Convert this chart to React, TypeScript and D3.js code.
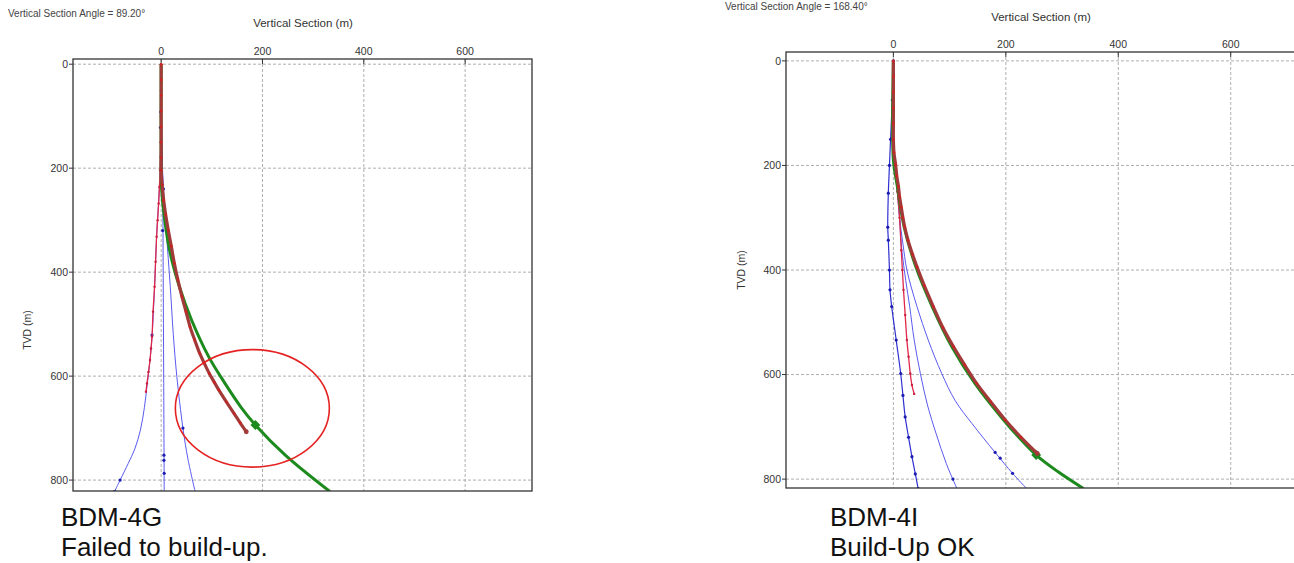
import React from 'react';
import * as d3 from 'd3';

type Pt = [number, number]; // [tvd, vertical section]

const xTicks = [0, 200, 400, 600];
const yTicks = [0, 200, 400, 600, 800];

// ---- BDM-4G (left) ----
const g4Actual: Pt[] = [
  [0, 0], [30, 0], [60, 0], [90, 0], [120, 0], [150, 0], [180, 0], [204, 0], [232, 2], [262, 5],
  [290, 9], [319, 14], [350, 20], [383, 26], [415, 33], [447, 41], [476, 49], [505, 57], [530, 66],
  [556, 76], [575, 85], [595, 95], [612, 105], [627, 114], [650, 129], [672, 144], [690, 156], [707, 168],
];
const g4Plan: Pt[] = [
  [0, 0], [200, 0], [242, 1], [300, 7], [364, 18], [428, 36], [492, 60], [563, 94], [614, 126],
  [659, 157], [694, 186], [752, 245], [822, 333],
];
const g4Offset: Pt[] = [
  [0, 0], [50, 0], [100, -0.5], [150, -1], [204, -2], [236, -3.5], [268, -5], [300, -7], [332, -9],
  [380, -11], [428, -13], [476, -16], [524, -18], [547, -20], [569, -22], [592, -25], [614, -28], [630, -30],
];
const g4BlueLeft: Pt[] = [
  [0, 0], [204, -2], [332, -9], [428, -13], [524, -18], [569, -22], [620, -28], [660, -33], [704, -41],
  [740, -52], [768, -65], [800, -81], [822, -92],
];
const g4BlueMid: Pt[] = [[0, 0], [100, 0.5], [230, 3], [400, 4], [600, 5], [822, 6]];
const g4BlueRight: Pt[] = [
  [0, 0], [150, 1], [229, 4], [319, 10], [428, 18], [520, 24], [601, 31], [700, 43], [760, 53], [822, 67],
];
const g4BlueDots: Pt[] = [
  [92, -1], [122, -1.5], [178, 0], [229, -1], [240, 4.5], [320, 3], [521, -18], [800, -81], [822, -92],
  [752, 5.5], [762, 5.5], [787, 6], [700, 43],
];
const g4PlanMark: Pt = [694, 186];
const g4Circle = { tvd: 662, vs: 180, rVs: 152, rTvd: 113 };

// ---- BDM-4I (right) ----
const i4Actual: Pt[] = [
  [0, 0], [30, 0], [60, 0], [90, 0], [120, 0], [150, 0], [175, 1], [199, 4], [220, 6], [240, 9], [260, 11],
  [280, 14], [300, 17], [317, 20], [343, 26], [370, 34], [394, 42], [430, 55], [470, 71], [510, 88],
  [547, 107], [582, 127], [617, 148], [652, 173], [687, 199], [720, 227], [751, 256],
];
const i4Plan: Pt[] = [
  [0, 0], [190, 0], [240, 7], [317, 19], [394, 40], [470, 69], [547, 104], [617, 145], [687, 196],
  [720, 223], [754, 254], [786, 293], [818, 338],
];
const i4Offset: Pt[] = [
  [0, 0], [150, 0], [200, 3], [250, 7], [300, 11], [362, 14], [400, 16], [438, 18], [486, 21], [534, 24],
  [566, 27], [598, 30], [620, 33], [637, 37],
];
const i4BlueA: Pt[] = [
  [0, 0], [75, -2], [150, -5], [200, -7], [253, -9], [318, -10], [343, -9], [400, -7], [438, -6],
  [470, -3], [534, 5], [598, 13], [640, 17], [681, 21], [720, 27], [757, 33], [790, 39], [818, 44],
];
const i4BlueB: Pt[] = [
  [0, 0], [150, 0], [200, 3], [250, 8], [300, 11], [362, 15], [420, 22], [470, 29], [534, 37],
  [598, 48], [660, 61], [713, 76], [770, 94], [818, 113],
];
const i4BlueC: Pt[] = [
  [0, 0], [150, 0], [200, 3], [250, 7], [300, 11], [350, 17], [400, 24], [470, 42], [534, 62],
  [598, 86], [650, 110], [694, 140], [749, 181], [789, 212], [818, 237],
];
const i4BlueDots: Pt[] = [[749, 181], [760, 190], [789, 212], [800, 106]];
const i4PlanMark: Pt = [754, 254];

const FONT = 'Liberation Sans, Arial, sans-serif';

const C = {
  grid: '#9a9a9a',
  frame: '#333',
  blue: '#5a5af0',
  blueDot: '#1c1cb4',
  red: '#e0284a',
  brown: '#a33a3a',
  brownDot: '#d02020',
  green: '#1d8a1d',
  circle: '#e52222',
};

interface ChartCfg {
  id: string;
  left: number; right: number; top: number; bottom: number;
  xDomain: [number, number]; yDomain: [number, number];
  angle: string; angleX: number; angleY: number;
  titleX: number; titleY: number;
  tvdX: number; tvdY: number;
  actual: Pt[]; plan: Pt[]; offset: Pt[];
  blues: Pt[][]; blueDots: Pt[]; darkBlue?: Pt[];
  planMark: Pt;
  circle?: { tvd: number; vs: number; rVs: number; rTvd: number };
}

const Chart = ({ cfg }: { cfg: ChartCfg }) => {
  const x = d3.scaleLinear().domain(cfg.xDomain).range([cfg.left, cfg.right]);
  const y = d3.scaleLinear().domain(cfg.yDomain).range([cfg.top, cfg.bottom]);
  const line = d3.line<Pt>().x(d => x(d[1])).y(d => y(d[0])).curve(d3.curveCatmullRom.alpha(0.5));
  const W = cfg.right - cfg.left;
  const H = cfg.bottom - cfg.top;
  const last = cfg.actual[cfg.actual.length - 1];

  return (
    <g fontFamily={FONT}>
      <defs>
        <clipPath id={cfg.id}>
          <rect x={cfg.left} y={cfg.top} width={W} height={H} />
        </clipPath>
      </defs>
      <text x={cfg.angleX} y={cfg.angleY} fontSize={10} fill="#444">{cfg.angle}</text>
      <text x={cfg.titleX} y={cfg.titleY} fontSize={11.5} fill="#333" textAnchor="middle">Vertical Section (m)</text>
      <text transform={`translate(${cfg.tvdX},${cfg.tvdY}) rotate(-90)`} fontSize={10.5} fill="#333" textAnchor="middle">TVD (m)</text>

      {/* grid */}
      {xTicks.map(t => (
        <line key={'gx' + t} x1={x(t)} x2={x(t)} y1={cfg.top} y2={cfg.bottom} stroke={C.grid} strokeWidth={0.8} strokeDasharray="3,2" />
      ))}
      {yTicks.map(t => (
        <line key={'gy' + t} x1={cfg.left} x2={cfg.right} y1={y(t)} y2={y(t)} stroke={C.grid} strokeWidth={0.8} strokeDasharray="3,2" />
      ))}

      {/* ticks + labels */}
      {xTicks.map(t => (
        <g key={'tx' + t}>
          <line x1={x(t)} x2={x(t)} y1={cfg.top} y2={cfg.top + 5} stroke={C.frame} strokeWidth={1} />
          <text x={x(t)} y={cfg.top - 4} fontSize={10.5} fill="#333" textAnchor="middle">{t}</text>
        </g>
      ))}
      {yTicks.map(t => (
        <g key={'ty' + t}>
          <line x1={cfg.left - 4} x2={cfg.left} y1={y(t)} y2={y(t)} stroke={C.frame} strokeWidth={1} />
          <text x={cfg.left - 5} y={y(t)} dy="0.35em" fontSize={10.5} fill="#333" textAnchor="end">{t}</text>
        </g>
      ))}

      <g clipPath={`url(#${cfg.id})`}>
        {cfg.blues.map((b, i) => (
          <path key={'b' + i} d={line(b) || ''} fill="none" stroke={C.blue} strokeWidth={1} />
        ))}
        {cfg.darkBlue && (
          <g>
            <path d={line(cfg.darkBlue) || ''} fill="none" stroke="#3030d0" strokeWidth={1.2} />
            {cfg.darkBlue.map((d, i) => (
              <circle key={'db' + i} cx={x(d[1])} cy={y(d[0])} r={1.6} fill={C.blueDot} />
            ))}
          </g>
        )}
        {cfg.blueDots.map((d, i) => (
          <circle key={'bd' + i} cx={x(d[1])} cy={y(d[0])} r={1.6} fill={C.blueDot} />
        ))}
        <path d={line(cfg.offset) || ''} fill="none" stroke={C.red} strokeWidth={1.3} />
        {cfg.offset.map((d, i) => (
          <circle key={'o' + i} cx={x(d[1])} cy={y(d[0])} r={1.2} fill="#c81e3c" />
        ))}
        <path d={line(cfg.plan) || ''} fill="none" stroke={C.green} strokeWidth={3} />
        <rect
          x={x(cfg.planMark[1]) - 3.5} y={y(cfg.planMark[0]) - 3.5} width={7} height={7}
          fill={C.green}
          transform={`rotate(45 ${x(cfg.planMark[1])} ${y(cfg.planMark[0])})`}
        />
        <path d={line(cfg.actual) || ''} fill="none" stroke={C.brown} strokeWidth={3.2} />
        {cfg.actual.map((d, i) => (
          <circle key={'a' + i} cx={x(d[1])} cy={y(d[0])} r={1.3} fill={C.brownDot} />
        ))}
        <circle cx={x(last[1])} cy={y(last[0])} r={2.4} fill={C.brown} />
        {cfg.circle && (
          <ellipse
            cx={x(cfg.circle.vs)} cy={y(cfg.circle.tvd)}
            rx={x(cfg.circle.vs + cfg.circle.rVs) - x(cfg.circle.vs)}
            ry={y(cfg.circle.tvd + cfg.circle.rTvd) - y(cfg.circle.tvd)}
            fill="none" stroke={C.circle} strokeWidth={1.6}
          />
        )}
      </g>

      {/* frame */}
      <rect x={cfg.left} y={cfg.top} width={W} height={H} fill="none" stroke={C.frame} strokeWidth={1.3} />
    </g>
  );
};

const leftCfg: ChartCfg = {
  id: 'clipL',
  left: 73, right: 532, top: 59, bottom: 491,
  xDomain: [-174, 732], yDomain: [-10, 821],
  angle: 'Vertical Section Angle = 89.20°', angleX: 8, angleY: 17,
  titleX: 303, titleY: 27,
  tvdX: 31, tvdY: 330,
  actual: g4Actual, plan: g4Plan, offset: g4Offset,
  blues: [g4BlueLeft, g4BlueMid, g4BlueRight], blueDots: g4BlueDots,
  planMark: g4PlanMark,
  circle: g4Circle,
};

const rightCfg: ChartCfg = {
  id: 'clipR',
  left: 786, right: 1301, top: 52, bottom: 488,
  xDomain: [-191, 725], yDomain: [-17, 817],
  angle: 'Vertical Section Angle = 168.40°', angleX: 725, angleY: 10,
  titleX: 1041, titleY: 21,
  tvdX: 745, tvdY: 270,
  actual: i4Actual, plan: i4Plan, offset: i4Offset,
  blues: [i4BlueB, i4BlueC], blueDots: i4BlueDots, darkBlue: i4BlueA,
  planMark: i4PlanMark,
};

export default function App() {
  return (
    <svg width={1294} height={563} style={{ position: 'absolute', left: 0, top: 0, background: '#fff' }}>
      <rect width={1294} height={563} fill="#fff" />
      <Chart cfg={leftCfg} />
      <Chart cfg={rightCfg} />
      <g fontFamily={FONT} fontSize={26} fill="#111">
        <text x={61} y={526}>BDM-4G</text>
        <text x={61} y={556}>Failed to build-up.</text>
        <text x={830} y={526}>BDM-4I</text>
        <text x={830} y={556}>Build-Up OK</text>
      </g>
    </svg>
  );
}
